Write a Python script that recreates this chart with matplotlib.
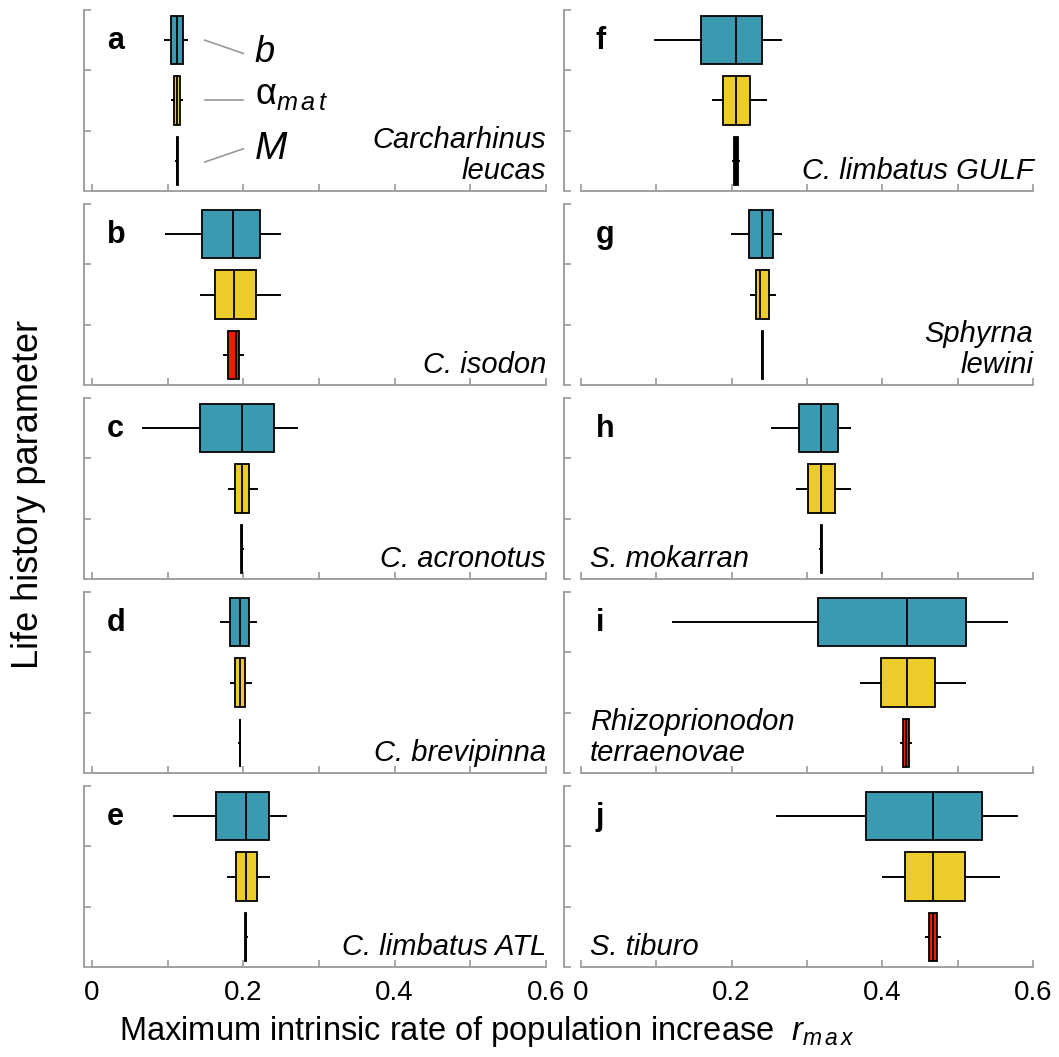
import matplotlib
matplotlib.use("Agg")
import matplotlib.pyplot as plt
import numpy as np

plt.rcParams['font.family'] = ['Liberation Sans', 'DejaVu Sans']
plt.rcParams['mathtext.fontset'] = 'custom'
plt.rcParams['mathtext.rm'] = 'Liberation Sans'
plt.rcParams['mathtext.it'] = 'Liberation Sans:italic'

# panel letters and species, a-e left column, f-j right column
letters = ['a', 'b', 'c', 'd', 'e', 'f', 'g', 'h', 'i', 'j']
species = ['Carcharhinus\nleucas', 'C. isodon', 'C. acronotus', 'C. brevipinna',
           'C. limbatus ATL', 'C. limbatus GULF', 'Sphyrna\nlewini', 'S. mokarran',
           'Rhizoprionodon\nterraenovae', 'S. tiburo']
species_left = [False, False, False, False, False, False, False, True, True, True]

# (whisker low, q1, median, q3, whisker high) for each panel
b_stats = [(0.097, 0.105, 0.112, 0.120, 0.125),
           (0.0975, 0.145, 0.187, 0.222, 0.249),
           (0.067, 0.143, 0.198, 0.240, 0.271),
           (0.170, 0.183, 0.196, 0.207, 0.217),
           (0.109, 0.164, 0.204, 0.234, 0.256),
           (0.098, 0.159, 0.206, 0.241, 0.266),
           (0.201, 0.223, 0.241, 0.2555, 0.265),
           (0.254, 0.290, 0.318, 0.341, 0.3575),
           (0.123, 0.314, 0.432, 0.511, 0.5645),
           (0.260, 0.378, 0.467, 0.532, 0.579)]
amat_stats = [(0.106, 0.109, 0.1125, 0.116, 0.119),
              (0.144, 0.163, 0.1875, 0.217, 0.248),
              (0.181, 0.189, 0.198, 0.208, 0.218),
              (0.1835, 0.189, 0.196, 0.2025, 0.210),
              (0.1795, 0.1905, 0.204, 0.218, 0.234),
              (0.1755, 0.189, 0.2055, 0.225, 0.246),
              (0.226, 0.233, 0.238, 0.250, 0.258),
              (0.287, 0.301, 0.319, 0.3377, 0.3575),
              (0.371, 0.398, 0.432, 0.4695, 0.509),
              (0.4005, 0.430, 0.467, 0.509, 0.5548)]
m_stats = [(0.111, 0.1117, 0.1125, 0.1133, 0.114),
           (0.174, 0.180, 0.190, 0.194, 0.200),
           (0.1968, 0.1972, 0.198, 0.1988, 0.1992),
           (0.1948, 0.1951, 0.1955, 0.1960, 0.1962),
           (0.2018, 0.2022, 0.203, 0.2038, 0.2042),
           (0.2015, 0.203, 0.2055, 0.2085, 0.2095),
           (0.2404, 0.2407, 0.241, 0.2415, 0.2418),
           (0.3178, 0.3181, 0.3187, 0.3193, 0.3196),
           (0.4245, 0.4275, 0.4315, 0.4355, 0.4385),
           (0.458, 0.462, 0.467, 0.472, 0.4765)]
m_red = [False, True, False, False, False, False, False, False, True, True]

teal = '#3B9AB2'
yellow = '#EBCC2A'
red = '#F21A00'
gray = '#999999'

W, H = 1059, 1057
fig = plt.figure(figsize=(W / 100, H / 100), dpi=100)

# pixel layout: (left spine px, px of x=0, px of x=0.6, right px)
cols = [(84, 92, 546, 548), (564, 580.7, 1033.3, 1035)]
tops = [10, 204, 398, 592, 786]
ph = 181


def to_stats(s):
    lo, q1, med, q3, hi = s
    return dict(whislo=lo, q1=q1, med=med, q3=q3, whishi=hi, fliers=[])


for k in range(10):
    col, row = divmod(k, 5)
    lpx, zpx, spx, rpx = cols[col]
    scale = (spx - zpx) / 0.6
    ax = fig.add_axes([lpx / W, 1 - (tops[row] + ph) / H, (rpx - lpx) / W, ph / H])
    ax.set_xlim((lpx - zpx) / scale, 0.6 + (rpx - spx) / scale)
    ax.set_ylim(0.5, 3.5)

    stats = [to_stats(b_stats[k]), to_stats(amat_stats[k]), to_stats(m_stats[k])]
    bp = ax.bxp(stats, positions=[3, 2, 1], widths=0.8, orientation='horizontal',
                patch_artist=True, showcaps=False,
                boxprops=dict(linewidth=1.3, edgecolor='black'),
                whiskerprops=dict(linewidth=1.4, color='black'),
                medianprops=dict(linewidth=1.3, color='black'))
    faces = [teal, yellow, red if m_red[k] else 'black']
    for patch, fc in zip(bp['boxes'], faces):
        patch.set_facecolor(fc)
        patch.set_zorder(3)
    for med in bp['medians']:
        med.set_zorder(4)

    for s in ['top', 'right']:
        ax.spines[s].set_visible(False)
    for s in ['left', 'bottom']:
        ax.spines[s].set_color(gray)
        ax.spines[s].set_linewidth(1.3)
    ax.spines['bottom'].set_bounds(0, 0.6)

    ax.set_yticks([0.5, 1.5, 2.5, 3.5])
    ax.set_yticklabels([])
    ax.set_xticks(np.arange(0, 0.61, 0.1))
    if row == 4:
        ax.set_xticklabels(['0', '', '0.2', '', '0.4', '', '0.6'])
    else:
        ax.set_xticklabels([])
    ax.tick_params(direction='in', length=5, width=1.2, color=gray,
                   labelsize=20, pad=9)

    ax.text(0.02, 2.86, letters[k], fontsize=22, fontweight='bold',
            ha='left', va='baseline')
    if species_left[k]:
        ax.text(0.012, 0.6, species[k], fontsize=21, style='italic',
                ha='left', va='bottom', linespacing=1.15)
    else:
        ax.text(0.6, 0.6, species[k], fontsize=21, style='italic',
                ha='right', va='bottom', multialignment='right', linespacing=1.15)

    if k == 0:
        # parameter key
        ax.plot([0.149, 0.2], [3.0, 2.78], color=gray, lw=1.2)
        ax.plot([0.149, 0.2], [2.0, 2.0], color=gray, lw=1.2)
        ax.plot([0.149, 0.2], [0.98, 1.2], color=gray, lw=1.2)
        ax.text(0.215, 2.63, 'b', fontsize=26, style='italic', va='baseline')
        ax.text(0.215, 1.95, r'$\mathrm{\alpha}_{m\,a\,t}$', fontsize=26, va='baseline')
        ax.text(0.215, 1.03, 'M', fontsize=28, style='italic', va='baseline')

fig.text(0.46, 0.016, r'Maximum intrinsic rate of population increase  $r_{m\,a\,x}$',
         fontsize=23.5, ha='center', va='baseline')
fig.text(0.027, 0.532, 'Life history parameter', fontsize=26, rotation=90,
         ha='center', va='center')

fig.savefig('out.png', dpi=100)
